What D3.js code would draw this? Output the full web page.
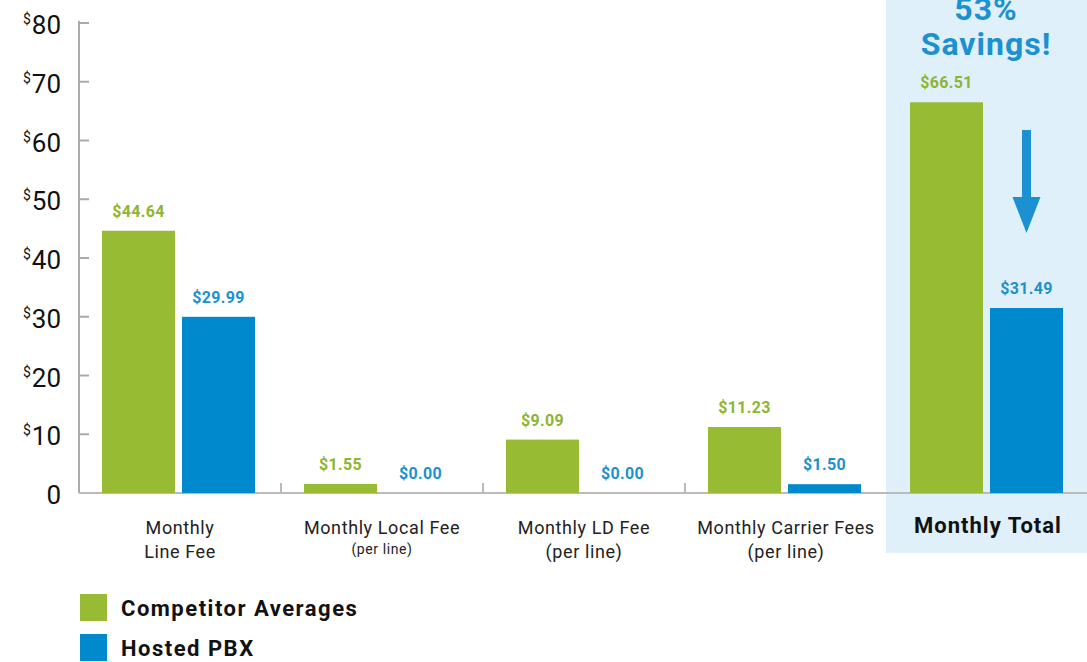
<!DOCTYPE html>
<html>
<head>
<meta charset="utf-8">
<script src="https://cdn.jsdelivr.net/npm/d3@7/dist/d3.min.js"></script>
<style>
  body { margin: 0; background: #fff; }
  svg { display: block; font-family: Roboto, "DejaVu Sans", sans-serif; }
</style>
</head>
<body>
<div id="chart"></div>
<script>
// data
const categories = ["line", "local", "ld", "carrier", "total"];
const categoryLines = [
  ["Monthly", "Line Fee"],
  ["Monthly Local Fee", "(per line)"],
  ["Monthly LD Fee", "(per line)"],
  ["Monthly Carrier Fees", "(per line)"],
  ["Monthly Total"]
];
const seriesNames = ["Competitor Averages", "Hosted PBX"];
const competitorValues = [44.64, 1.55, 9.09, 11.23, 66.51];
const hostedValues = [29.99, 0.00, 0.00, 1.50, 31.49];
const yTicks = [0, 10, 20, 30, 40, 50, 60, 70, 80];
const savingsLines = ["53%", "Savings!"];

const GREEN = "#97bb33", BLUE = "#0089cc", LABEL_BLUE = "#1b91d1";
const width = 1087, height = 662;

const svg = d3.select("#chart").append("svg")
  .attr("width", width).attr("height", height);

const y = d3.scaleLinear().domain([0, 80]).range([493, 23]);
const x = d3.scaleBand().domain(categories).range([79, 1089]);
const x1 = d3.scaleBand().domain(seriesNames).range([23, 176]).paddingInner(0.0875);
const color = d3.scaleOrdinal().domain(seriesNames).range([GREEN, BLUE]);

// highlight panel behind the total
svg.append("rect")
  .attr("x", x("total") - 1).attr("y", 0)
  .attr("width", width - x("total") + 1).attr("height", 553)
  .attr("fill", "#dff0fa");

// y axis
svg.append("line")
  .attr("x1", 79).attr("x2", 79)
  .attr("y1", y(80) - 2).attr("y2", y(0))
  .attr("stroke", "#aaa").attr("stroke-width", 2);

svg.selectAll("line.ytick").data(yTicks.slice(1)).enter().append("line")
  .attr("class", "ytick")
  .attr("x1", 79).attr("x2", 89)
  .attr("y1", d => y(d)).attr("y2", d => y(d))
  .attr("stroke", "#aaa").attr("stroke-width", 2);

const yl = svg.selectAll("text.ylab").data(yTicks).enter().append("text")
  .attr("class", "ylab")
  .attr("x", 61).attr("y", d => y(d) + 11)
  .attr("text-anchor", "end")
  .attr("fill", "#111")
  .style("font-size", "26px");
yl.filter(d => d > 0).append("tspan")
  .attr("dy", -10).attr("dx", 0).style("font-size", "14px").text("$");
yl.append("tspan")
  .attr("dy", d => d > 0 ? 10 : 0).attr("dx", d => d > 0 ? 1 : 0).text(d => d);

// baseline and category ticks
svg.append("line")
  .attr("x1", 79).attr("x2", width)
  .attr("y1", y(0)).attr("y2", y(0))
  .attr("stroke", "#bbb").attr("stroke-width", 2);

svg.selectAll("line.xtick").data(categories.slice(1, 4)).enter().append("line")
  .attr("class", "xtick")
  .attr("x1", d => x(d)).attr("x2", d => x(d))
  .attr("y1", y(0) - 10).attr("y2", y(0))
  .attr("stroke", "#bbb").attr("stroke-width", 2);

// bars
const rows = categories.map((c, i) => ({
  cat: c,
  vals: [
    { s: seriesNames[0], v: competitorValues[i] },
    { s: seriesNames[1], v: hostedValues[i] }
  ]
}));

const groups = svg.selectAll("g.grp").data(rows).enter().append("g")
  .attr("class", "grp")
  .attr("transform", d => `translate(${x(d.cat)},0)`);

groups.selectAll("rect").data(d => d.vals).enter().append("rect")
  .attr("x", d => x1(d.s))
  .attr("y", d => y(d.v))
  .attr("width", x1.bandwidth())
  .attr("height", d => y(0) - y(d.v))
  .attr("fill", d => color(d.s));

groups.selectAll("text.val").data(d => d.vals).enter().append("text")
  .attr("class", "val")
  .attr("x", d => x1(d.s) + x1.bandwidth() / 2)
  .attr("y", d => y(d.v) - 14)
  .attr("text-anchor", "middle")
  .attr("fill", d => d.s === seriesNames[0] ? "#8db531" : LABEL_BLUE)
  .style("font-size", "16px").style("font-weight", "bold")
  .style("letter-spacing", "0.3px")
  .text(d => "$" + d.v.toFixed(2));

// category labels
categoryLines.forEach((lines, i) => {
  const cx = x(categories[i]) + x.bandwidth() / 2;
  const t = svg.append("text")
    .attr("x", cx).attr("text-anchor", "middle").attr("fill", "#222");
  if (categories[i] === "total") {
    t.attr("y", 533).style("font-size", "22px").style("font-weight", "bold")
      .style("letter-spacing", "1px")
      .attr("fill", "#111").text(lines[0]);
    return;
  }
  lines.forEach((ln, j) => {
    const small = (i === 1 && j === 1);
    t.append("tspan")
      .attr("x", cx)
      .attr("y", j === 0 ? 534 : (small ? 554 : 558))
      .style("font-size", small ? "14px" : "18px")
      .style("letter-spacing", "0.6px")
      .text(ln);
  });
});

// savings callout (top line is cropped by the frame, as in the original)
const sx = x("total") + x.bandwidth() / 2 - 2;
svg.append("text")
  .attr("x", sx).attr("text-anchor", "middle")
  .attr("fill", LABEL_BLUE).style("font-size", "32px").style("font-weight", "bold")
  .style("letter-spacing", "1px")
  .selectAll("tspan").data(savingsLines).enter().append("tspan")
  .attr("x", sx).attr("y", (d, i) => 20 + i * 35).text(d => d);

// arrow
const ax = x("total") + x1(seriesNames[1]) + x1.bandwidth() / 2;
svg.append("rect")
  .attr("x", ax - 4.5).attr("y", 130).attr("width", 9).attr("height", 70)
  .attr("fill", LABEL_BLUE);
svg.append("path")
  .attr("d", `M${ax - 14},197 L${ax + 14},197 L${ax},233 Z`)
  .attr("fill", LABEL_BLUE);

// legend
const legend = svg.selectAll("g.leg").data(seriesNames).enter().append("g")
  .attr("class", "leg")
  .attr("transform", (d, i) => `translate(80,${594 + i * 40})`);
legend.append("rect")
  .attr("width", 27).attr("height", 27)
  .attr("fill", d => color(d));
legend.append("text")
  .attr("x", 41).attr("y", 22)
  .attr("fill", "#111")
  .style("font-size", "22px").style("font-weight", "bold")
  .style("letter-spacing", "1.5px")
  .text(d => d);
</script>
</body>
</html>
